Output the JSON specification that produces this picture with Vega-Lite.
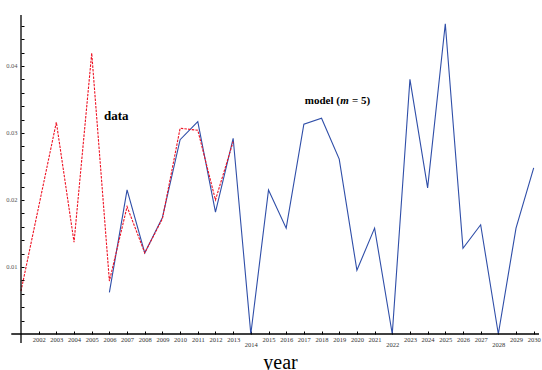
{
  "$schema": "https://vega.github.io/schema/vega-lite/v6.json",
  "autosize": "none",
  "padding": {"left": 21, "top": 15, "right": 3, "bottom": 36},
  "width": 518,
  "height": 319,
  "background": "white",
  "config": {"view": {"stroke": null}, "font": "Liberation Serif"},
  "datasets": {
    "series": [
      {"year": 2001, "value": 0.0064, "series": "data"},
      {"year": 2002, "value": 0.0190, "series": "data"},
      {"year": 2003, "value": 0.0316, "series": "data"},
      {"year": 2004, "value": 0.0137, "series": "data"},
      {"year": 2005, "value": 0.0419, "series": "data"},
      {"year": 2006, "value": 0.0079, "series": "data"},
      {"year": 2007, "value": 0.0190, "series": "data"},
      {"year": 2008, "value": 0.0121, "series": "data"},
      {"year": 2009, "value": 0.0172, "series": "data"},
      {"year": 2010, "value": 0.0307, "series": "data"},
      {"year": 2011, "value": 0.0304, "series": "data"},
      {"year": 2012, "value": 0.0200, "series": "data"},
      {"year": 2013, "value": 0.0287, "series": "data"},
      {"year": 2006, "value": 0.0062, "series": "model"},
      {"year": 2007, "value": 0.0215, "series": "model"},
      {"year": 2008, "value": 0.0121, "series": "model"},
      {"year": 2009, "value": 0.0174, "series": "model"},
      {"year": 2010, "value": 0.0290, "series": "model"},
      {"year": 2011, "value": 0.0317, "series": "model"},
      {"year": 2012, "value": 0.0182, "series": "model"},
      {"year": 2013, "value": 0.0292, "series": "model"},
      {"year": 2014, "value": 0.0, "series": "model"},
      {"year": 2015, "value": 0.0215, "series": "model"},
      {"year": 2016, "value": 0.0158, "series": "model"},
      {"year": 2017, "value": 0.0313, "series": "model"},
      {"year": 2018, "value": 0.0322, "series": "model"},
      {"year": 2019, "value": 0.0261, "series": "model"},
      {"year": 2020, "value": 0.0095, "series": "model"},
      {"year": 2021, "value": 0.0158, "series": "model"},
      {"year": 2022, "value": 0.0, "series": "model"},
      {"year": 2023, "value": 0.0380, "series": "model"},
      {"year": 2024, "value": 0.0218, "series": "model"},
      {"year": 2025, "value": 0.0463, "series": "model"},
      {"year": 2026, "value": 0.0128, "series": "model"},
      {"year": 2027, "value": 0.0163, "series": "model"},
      {"year": 2028, "value": 0.0, "series": "model"},
      {"year": 2029, "value": 0.0158, "series": "model"},
      {"year": 2030, "value": 0.0248, "series": "model"}
    ],
    "notes": [
      {"label": "data", "year": 2005.69, "value": 0.0325}
    ]
  },
  "data": {"name": "series"},
  "encoding": {
    "x": {
      "field": "year", "type": "quantitative",
      "scale": {"domain": [2001, 2030.3], "nice": false, "zero": false},
      "axis": {
        "title": "year",
        "titleFont": "Liberation Serif", "titleFontSize": 20, "titleFontWeight": "normal", "titleColor": "black",
        "titlePadding": 5,
        "offset": -3,
        "values": [2002,2003,2004,2005,2006,2007,2008,2009,2010,2011,2012,2013,2014,2015,2016,2017,2018,2019,2020,2021,2022,2023,2024,2025,2026,2027,2028,2029,2030],
        "format": "d",
        "labelFont": "Liberation Serif", "labelFontSize": 6.5, "labelColor": "#333333",
        "labelPadding": {"condition": {"test": "datum.value == 2014 || datum.value == 2022 || datum.value == 2028", "value": 7}, "value": 2},
        "labelOverlap": false, "labelFlush": false,
        "ticks": true, "tickSize": 3, "tickColor": "black", "tickWidth": 1,
        "domain": false,
        "grid": false
      }
    },
    "y": {
      "field": "value", "type": "quantitative",
      "scale": {"domain": [0, 0.0476], "nice": false, "zero": false},
      "axis": {
        "title": null,
        "offset": -3,
        "values": [0.002,0.004,0.006,0.008,0.01,0.012,0.014,0.016,0.018,0.02,0.022,0.024,0.026,0.028,0.03,0.032,0.034,0.036,0.038,0.04,0.042,0.044,0.046],
        "labelExpr": "abs(datum.value*100 - round(datum.value*100)) < 1e-6 ? format(datum.value, '.2f') : ''",
        "labelFont": "Liberation Serif", "labelFontSize": 6.5, "labelColor": "#555555",
        "labelPadding": 4,
        "labelOverlap": false, "labelFlush": false,
        "ticks": true, "tickSize": 3, "tickColor": "black", "tickWidth": 1,
        "domain": false,
        "grid": false
      }
    }
  },
  "layer": [
    {
      "transform": [{"filter": "datum.series == 'model'"}],
      "mark": {"type": "line", "color": "#2f4ea8", "strokeWidth": 1.1}
    },
    {
      "transform": [{"filter": "datum.series == 'data'"}],
      "mark": {"type": "line", "color": "#ee1122", "strokeWidth": 1.1, "strokeDash": [2.5, 1.2]}
    },
    {
      "data": {"name": "notes"},
      "mark": {"type": "rule", "color": "black", "strokeWidth": 1.3},
      "encoding": {"x": {"datum": 2000.45, "type": "quantitative"}, "x2": {"datum": 2030.3}, "y": {"datum": 0, "type": "quantitative"}}
    },
    {
      "data": {"name": "notes"},
      "mark": {"type": "rule", "color": "black", "strokeWidth": 1.3},
      "encoding": {"x": {"datum": 2001, "type": "quantitative"}, "y": {"datum": 0.0476, "type": "quantitative"}, "y2": {"datum": -0.00135}}
    },
    {
      "data": {"name": "notes"},
      "mark": {"type": "text", "font": "Liberation Serif", "fontSize": 13, "fontWeight": "bold", "align": "left", "baseline": "middle", "color": "black"},
      "encoding": {"text": {"field": "label"}}
    },
    {
      "data": {"name": "notes"},
      "mark": {"type": "text", "text": "model (", "font": "Liberation Serif", "fontSize": 11, "fontWeight": "bold", "align": "left", "baseline": "middle", "color": "black"},
      "encoding": {"x": {"datum": 2017.05, "type": "quantitative"}, "y": {"datum": 0.0348, "type": "quantitative"}}
    },
    {
      "data": {"name": "notes"},
      "mark": {"type": "text", "text": "m", "font": "Liberation Serif", "fontSize": 11, "fontWeight": "bold", "fontStyle": "italic", "align": "left", "baseline": "middle", "color": "black", "dx": 35.6},
      "encoding": {"x": {"datum": 2017.05, "type": "quantitative"}, "y": {"datum": 0.0348, "type": "quantitative"}}
    },
    {
      "data": {"name": "notes"},
      "mark": {"type": "text", "text": "= 5)", "font": "Liberation Serif", "fontSize": 11, "fontWeight": "bold", "align": "left", "baseline": "middle", "color": "black", "dx": 47.2},
      "encoding": {"x": {"datum": 2017.05, "type": "quantitative"}, "y": {"datum": 0.0348, "type": "quantitative"}}
    }
  ]
}
